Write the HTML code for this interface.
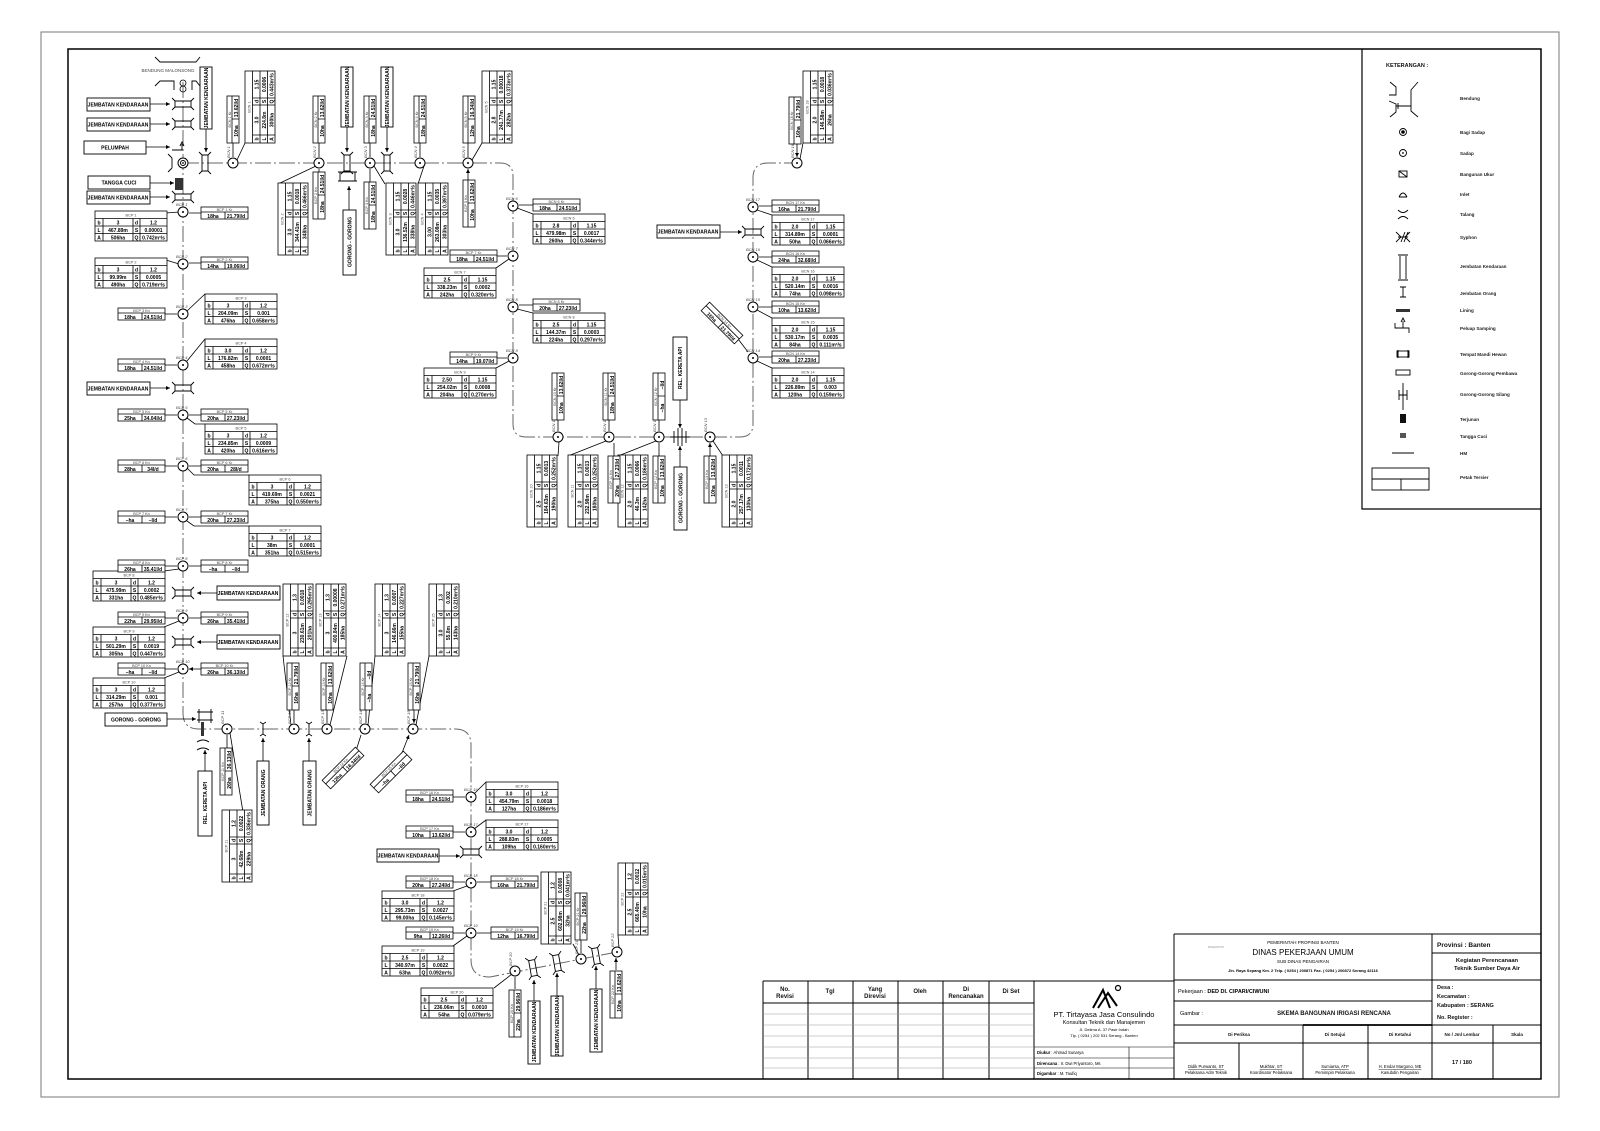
<!DOCTYPE html>
<html><head><meta charset="utf-8">
<style>
html,body{margin:0;padding:0;background:#fff}
svg{display:block}
.v{font:bold 5px "Liberation Sans",sans-serif;text-anchor:middle;fill:#000}
.tt{font:3.8px "Liberation Sans",sans-serif;text-anchor:middle;fill:#444}
.b{font:bold 5px "Liberation Sans",sans-serif;text-anchor:middle;fill:#000}
.n{font:italic 4px "Liberation Sans",sans-serif;fill:#444}
.lg{font:bold 4.6px "Liberation Sans",sans-serif;fill:#222}
.s{font:5px "Liberation Sans",sans-serif;fill:#222}
.sb{font:bold 5.5px "Liberation Sans",sans-serif;fill:#111}
.m{font:bold 6px "Liberation Sans",sans-serif;fill:#111;text-anchor:middle}
</style></head><body>
<svg width="1600" height="1131" viewBox="0 0 1600 1131" xmlns="http://www.w3.org/2000/svg">
<defs>
<g id="T" fill="none" stroke="#000" stroke-width="0.8"><rect x="0" y="0" width="72" height="30" fill="#fff"/><path d="M0 7.5H72M0 15H72M0 22.5H72M8 7.5V30M38 7.5V30M45 7.5V30"/></g>
<g id="K" fill="none" stroke="#000" stroke-width="0.8"><rect x="0" y="0" width="47" height="12" fill="#fff"/><path d="M0 5H47M24 5V12"/></g>
<g id="N"><circle r="5" fill="#fff" stroke="#000" stroke-width="1"/><circle r="1" fill="#000"/></g>
<g id="JV" fill="none" stroke="#000" stroke-width="0.9"><path d="M-8 -3H8M-8 3H8M-8 -3L-11 -6M-8 3L-11 6M8 -3L11 -6M8 3L11 6M-8 -3V3M8 -3V3"/></g>
<g id="JO" fill="none" stroke="#000" stroke-width="0.9"><path d="M-5 0H5M-5 0L-7 -3M-5 0L-7 3M5 0L7 -3M5 0L7 3"/></g>
<marker id="a" viewBox="0 0 6 6" refX="6" refY="3" markerWidth="5" markerHeight="5" orient="auto"><path d="M0 0L6 3L0 6Z" fill="#000"/></marker>
</defs>

<rect x="41" y="32" width="1518" height="1065" fill="none" stroke="#777" stroke-width="1"/>
<rect x="68" y="49" width="1473" height="1030" fill="none" stroke="#000" stroke-width="1.5"/>

<g fill="none" stroke="#666" stroke-width="1" stroke-dasharray="16 3 2 3">
<path d="M183 82V713Q183 729 199 729H455Q471 729 471 745V960Q471 977 490 977L617 952"/>
<path d="M183 163H500Q513 163 513 176V424Q513 437 526 437H740Q753 437 753 424V178Q753 163 768 163H797"/>
</g>

<path d="M155 57L160 62H196L200 57M155 86L160 81H174V90M200 86L196 81H192V90" fill="none" stroke="#000" stroke-width="0.9"/>
<text class="tt" x="168" y="72" style="font-size:4.5px">BENDUNG MALONSONG</text>
<circle cx="183" cy="83" r="3" fill="none" stroke="#000" stroke-width="0.8"/><circle cx="183" cy="89" r="3" fill="none" stroke="#000" stroke-width="0.8"/>
<use href="#JV" x="183" y="104"/><use href="#JV" x="183" y="124"/><use href="#JV" x="183" y="197"/>
<path d="M172 150H182V144M180 146L182 142L184 146" fill="none" stroke="#000" stroke-width="0.9"/>
<circle cx="183" cy="163" r="5" fill="#fff" stroke="#000"/><circle cx="183" cy="163" r="2.5" fill="none" stroke="#000"/><circle cx="183" cy="163" r="0.9"/>
<path d="M172 158V168M168 154L172 158M168 172L172 168" fill="none" stroke="#000" stroke-width="0.9"/>
<rect x="175" y="178" width="8" height="12" fill="#333"/>
<use href="#JV" transform="translate(205 163) rotate(90)"/>
<g stroke="#000" stroke-width="0.8" marker-end="url(#a)">
<path d="M150 104H170"/><path d="M150 124H170"/><path d="M146 147H170"/><path d="M150 183H174"/><path d="M150 197H170"/>
<path d="M206 129V152"/><path d="M150 388H170"/><path d="M217 593H197"/><path d="M217 642H197"/><path d="M167 719H196"/>
<path d="M347 127V152"/><path d="M387 127V152"/><path d="M349 210V186"/>
<path d="M680 400V428"/><path d="M680 467V446"/><path d="M720 232H742"/>
<path d="M205 771V750"/><path d="M263 761V738"/><path d="M309 761V738"/>
<path d="M438 856H460"/><path d="M534 1001V980"/><path d="M557 996V973"/><path d="M596 989V966"/>
</g>
<use href="#JV" x="183" y="388"/><use href="#JV" x="183" y="593"/><use href="#JV" x="183" y="642"/>
<path d="M197 712H213M197 720H213M199 709V723M211 709V723" fill="none" stroke="#000" stroke-width="0.9"/>
<rect x="201" y="722" width="3" height="14" fill="#333"/>
<path d="M197 742Q203 738 209 742M197 750Q203 746 209 750" fill="none" stroke="#000" stroke-width="0.9"/>
<use href="#JV" transform="translate(347 163) rotate(90)"/><use href="#JV" transform="translate(387 163) rotate(90)"/>
<path d="M338 172H357M338 181H357M340 172V181M355 172V181" fill="none" stroke="#000" stroke-width="0.9"/>
<path d="M674 431V443M686 431V443M670 437H690M678 428V446M682 428V446" fill="none" stroke="#000" stroke-width="0.9"/>
<use href="#JV" x="753" y="232"/><use href="#JV" x="471" y="852"/>
<use href="#JO" transform="translate(263 729) rotate(90)"/><use href="#JO" transform="translate(309 729) rotate(90)"/>
<use href="#JV" transform="translate(533 968) rotate(80)"/><use href="#JV" transform="translate(557 963) rotate(80)"/><use href="#JV" transform="translate(596 956) rotate(80)"/>

<g fill="#fff" stroke="#000" stroke-width="0.9">
<rect x="87" y="98" width="63" height="13"/><rect x="87" y="118" width="63" height="13"/><rect x="84" y="141" width="62" height="13"/>
<rect x="88" y="176" width="62" height="13"/><rect x="87" y="191" width="63" height="13"/><rect x="87" y="382" width="63" height="13"/>
<rect x="217" y="586" width="63" height="14"/><rect x="217" y="635" width="63" height="14"/><rect x="105" y="713" width="62" height="13"/>
<rect x="657" y="225" width="63" height="13"/><rect x="377" y="849" width="62" height="13"/>
<rect x="200" y="67" width="12" height="62"/><rect x="341" y="67" width="12" height="60"/><rect x="381" y="67" width="12" height="60"/>
<rect x="343" y="210" width="13" height="65"/><rect x="673" y="337" width="14" height="63"/><rect x="674" y="467" width="13" height="63"/>
<rect x="198" y="771" width="14" height="65"/><rect x="257" y="761" width="12" height="64"/><rect x="303" y="761" width="13" height="64"/>
<rect x="528" y="1001" width="12" height="63"/><rect x="551" y="996" width="12" height="60"/><rect x="590" y="989" width="12" height="63"/>
</g>
<text class="b" x="118" y="106.5">JEMBATAN KENDARAAN</text><text class="b" x="118" y="126.5">JEMBATAN KENDARAAN</text>
<text class="b" x="115" y="149.5">PELUMPAH</text><text class="b" x="119" y="184.5">TANGGA CUCI</text>
<text class="b" x="118" y="199.5">JEMBATAN KENDARAAN</text><text class="b" x="118" y="390.5">JEMBATAN KENDARAAN</text>
<text class="b" x="248" y="595">JEMBATAN KENDARAAN</text><text class="b" x="248" y="644">JEMBATAN KENDARAAN</text>
<text class="b" x="136" y="721.5">GORONG - GORONG</text><text class="b" x="688" y="233.5">JEMBATAN KENDARAAN</text>
<text class="b" x="408" y="857.5">JEMBATAN KENDARAAN</text>
<text class="b" transform="translate(208 98) rotate(-90)">JEMBATAN KENDARAAN</text>
<text class="b" transform="translate(349 97) rotate(-90)">JEMBATAN KENDARAAN</text>
<text class="b" transform="translate(389 97) rotate(-90)">JEMBATAN KENDARAAN</text>
<text class="b" transform="translate(351.5 242) rotate(-90)">GORONG - GORONG</text>
<text class="b" transform="translate(682 368) rotate(-90)">REL. KERETA API</text>
<text class="b" transform="translate(682.5 498) rotate(-90)">GORONG - GORONG</text>
<text class="b" transform="translate(207 803) rotate(-90)">REL. KERETA API</text>
<text class="b" transform="translate(265 793) rotate(-90)">JEMBATAN ORANG</text>
<text class="b" transform="translate(311.5 793) rotate(-90)">JEMBATAN ORANG</text>
<text class="b" transform="translate(536 1032) rotate(-90)">JEMBATAN KENDARAAN</text>
<text class="b" transform="translate(559 1026) rotate(-90)">JEMBATAN KENDARAAN</text>
<text class="b" transform="translate(598 1020) rotate(-90)">JEMBATAN KENDARAAN</text>

<g stroke="#000" stroke-width="0.8" fill="none">
<path d="M166 213L179 212M166 260L179 264M205 294L187 311M205 339L187 361M205 424L195 424L187 418M249 475L194 475L187 468M249 526L194 526L187 521M164 571L179 569M164 627L179 621M164 678L179 672"/>
<path d="M245 143L237 160M278 184L316 166M385 184L374 166M418 184L424 166M482 143L472 160"/>
<path d="M533 214L517 208M496 268L509 259M533 313L517 309M496 368L509 361"/>
<path d="M772 368L757 361M772 318L757 310M772 267L757 260M772 215L757 210M803 143L800 159"/>
<path d="M558 456L559 442M568 456L606 441M618 456L656 441M723 456L713 441"/>
<path d="M243 812L230 733M283 656L291 725M347 656L330 725M375 656L368 725M429 656L416 725"/>
<path d="M486 782L474 794M486 820L474 829M453 891L467 886M453 946L467 936M494 988L512 974M573 944L579 955M618 935L619 948"/>
</g>
<g stroke="#000" stroke-width="0.8" marker-end="url(#a)">
<path d="M201 213H189M201 263H189M165 314H177M165 365H177M165 415H177M201 415H189M165 466H177M201 466H189M165 517H177M201 517H189M165 566H177M201 566H189M165 618H177M201 618H189M165 669H177M201 669H189"/>
<path d="M233 143V157M319 143V157M319 172V169M370 143V157M370 184V169M420 143V157M468 143V157M468 180V169"/>
<path d="M533 205H519M496 256H507M533 305H519M496 358H507M772 357H759M772 307H759M772 257H759M772 206H759M797 144V157"/>
<path d="M558 420V431M609 420V431M614 456V443M659 420V431M659 456V443M710 456V443"/>
<path d="M227 748V735M294 710V723M327 710V723M366 710V723M414 710V723"/>
<path d="M453 797H465M453 832H465M453 882H465M491 882H477M453 933H465M491 933H477M515 989V977M581 940V953M616 970V958"/>
<path d="M735 335L748 352M355 754L361 735M400 758L409 735"/>
</g>

<g>
<use href="#N" x="183" y="212"/><use href="#N" x="183" y="264"/><use href="#N" x="183" y="314"/><use href="#N" x="183" y="365"/>
<use href="#N" x="183" y="415"/><use href="#N" x="183" y="466"/><use href="#N" x="183" y="517"/><use href="#N" x="183" y="566"/>
<use href="#N" x="183" y="618"/><use href="#N" x="183" y="669"/>
<use href="#N" x="233" y="163"/><use href="#N" x="319" y="163"/><use href="#N" x="370" y="163"/><use href="#N" x="420" y="163"/><use href="#N" x="468" y="163"/>
<use href="#N" x="513" y="206"/><use href="#N" x="513" y="256"/><use href="#N" x="513" y="307"/><use href="#N" x="513" y="358"/>
<use href="#N" x="558" y="437"/><use href="#N" x="609" y="437"/><use href="#N" x="659" y="437"/><use href="#N" x="710" y="437"/>
<use href="#N" x="753" y="358"/><use href="#N" x="753" y="307"/><use href="#N" x="753" y="257"/><use href="#N" x="753" y="207"/><use href="#N" x="797" y="163"/>
<use href="#N" x="227" y="729"/><use href="#N" x="294" y="729"/><use href="#N" x="327" y="729"/><use href="#N" x="365" y="729"/><use href="#N" x="413" y="729"/>
<use href="#N" x="471" y="797"/><use href="#N" x="471" y="832"/><use href="#N" x="471" y="883"/><use href="#N" x="471" y="933"/>
<use href="#N" x="515" y="971"/><use href="#N" x="581" y="959"/><use href="#N" x="617" y="952"/>
</g>
<g class="n">
<text x="176" y="206">BCP 1</text><text x="176" y="258">BCP 2</text><text x="176" y="308">BCP 3</text><text x="176" y="359">BCP 4</text><text x="176" y="409">BCP 5</text>
<text x="176" y="460">BCP 6</text><text x="176" y="511">BCP 7</text><text x="176" y="560">BCP 8</text><text x="176" y="612">BCP 9</text><text x="176" y="663">BCP 10</text>
<text x="506" y="200">BCN 6</text><text x="506" y="250">BCN 7</text><text x="506" y="301">BCN 8</text><text x="506" y="352">BCN 9</text>
<text x="746" y="352">BCN 14</text><text x="746" y="301">BCN 15</text><text x="746" y="251">BCN 16</text><text x="746" y="201">BCN 17</text>
<text x="464" y="791">BCP 16</text><text x="464" y="826">BCP 17</text><text x="464" y="877">BCP 18</text><text x="464" y="927">BCP 19</text>
</g>
<g class="n">
<text transform="translate(230 158) rotate(-90)">BCN 1</text><text transform="translate(316 158) rotate(-90)">BCN 2</text><text transform="translate(367 158) rotate(-90)">BCN 3</text>
<text transform="translate(417 158) rotate(-90)">BCN 4</text><text transform="translate(465 158) rotate(-90)">BCN 5</text><text transform="translate(794 158) rotate(-90)">BCN 18</text>
<text transform="translate(555 432) rotate(-90)">BCN 10</text><text transform="translate(606 432) rotate(-90)">BCN 11</text><text transform="translate(656 432) rotate(-90)">BCN 12</text><text transform="translate(707 432) rotate(-90)">BCN 13</text>
<text transform="translate(224 724) rotate(-90)">BCP 11</text><text transform="translate(291 724) rotate(-90)">BCP 12</text><text transform="translate(324 724) rotate(-90)">BCP 13</text>
<text transform="translate(362 724) rotate(-90)">BCP 14</text><text transform="translate(410 724) rotate(-90)">BCP 15</text>
<text transform="translate(512 966) rotate(-90)">BCP 20</text><text transform="translate(578 954) rotate(-90)">BCP 21</text><text transform="translate(614 947) rotate(-90)">BCP 22</text>
</g>

<g transform="translate(95 211)"><use href="#T"/><text class="tt" x="36" y="5.5">BCP 1</text><text class="v"><tspan x="4" y="13.5">b</tspan><tspan x="23">3</tspan><tspan x="41.5">d</tspan><tspan x="58.5">1.2</tspan><tspan x="4" y="21">L</tspan><tspan x="23">467.89m</tspan><tspan x="41.5">S</tspan><tspan x="58.5">0.00001</tspan><tspan x="4" y="28.5">A</tspan><tspan x="23">506ha</tspan><tspan x="41.5">Q</tspan><tspan x="58.5">0.742m³/s</tspan></text></g>
<g transform="translate(95 258)"><use href="#T"/><text class="tt" x="36" y="5.5">BCP 2</text><text class="v"><tspan x="4" y="13.5">b</tspan><tspan x="23">3</tspan><tspan x="41.5">d</tspan><tspan x="58.5">1.2</tspan><tspan x="4" y="21">L</tspan><tspan x="23">99.99m</tspan><tspan x="41.5">S</tspan><tspan x="58.5">0.0005</tspan><tspan x="4" y="28.5">A</tspan><tspan x="23">490ha</tspan><tspan x="41.5">Q</tspan><tspan x="58.5">0.719m³/s</tspan></text></g>
<g transform="translate(205 294)"><use href="#T"/><text class="tt" x="36" y="5.5">BCP 3</text><text class="v"><tspan x="4" y="13.5">b</tspan><tspan x="23">3</tspan><tspan x="41.5">d</tspan><tspan x="58.5">1.2</tspan><tspan x="4" y="21">L</tspan><tspan x="23">204.09m</tspan><tspan x="41.5">S</tspan><tspan x="58.5">0.001</tspan><tspan x="4" y="28.5">A</tspan><tspan x="23">476ha</tspan><tspan x="41.5">Q</tspan><tspan x="58.5">0.658m³/s</tspan></text></g>
<g transform="translate(205 339)"><use href="#T"/><text class="tt" x="36" y="5.5">BCP 4</text><text class="v"><tspan x="4" y="13.5">b</tspan><tspan x="23">3.0</tspan><tspan x="41.5">d</tspan><tspan x="58.5">1.2</tspan><tspan x="4" y="21">L</tspan><tspan x="23">176.82m</tspan><tspan x="41.5">S</tspan><tspan x="58.5">0.0001</tspan><tspan x="4" y="28.5">A</tspan><tspan x="23">458ha</tspan><tspan x="41.5">Q</tspan><tspan x="58.5">0.672m³/s</tspan></text></g>
<g transform="translate(205 424)"><use href="#T"/><text class="tt" x="36" y="5.5">BCP 5</text><text class="v"><tspan x="4" y="13.5">b</tspan><tspan x="23">3</tspan><tspan x="41.5">d</tspan><tspan x="58.5">1.2</tspan><tspan x="4" y="21">L</tspan><tspan x="23">234.85m</tspan><tspan x="41.5">S</tspan><tspan x="58.5">0.0009</tspan><tspan x="4" y="28.5">A</tspan><tspan x="23">420ha</tspan><tspan x="41.5">Q</tspan><tspan x="58.5">0.616m³/s</tspan></text></g>
<g transform="translate(249 475)"><use href="#T"/><text class="tt" x="36" y="5.5">BCP 6</text><text class="v"><tspan x="4" y="13.5">b</tspan><tspan x="23">3</tspan><tspan x="41.5">d</tspan><tspan x="58.5">1.2</tspan><tspan x="4" y="21">L</tspan><tspan x="23">419.69m</tspan><tspan x="41.5">S</tspan><tspan x="58.5">0.0021</tspan><tspan x="4" y="28.5">A</tspan><tspan x="23">375ha</tspan><tspan x="41.5">Q</tspan><tspan x="58.5">0.550m³/s</tspan></text></g>
<g transform="translate(249 526)"><use href="#T"/><text class="tt" x="36" y="5.5">BCP 7</text><text class="v"><tspan x="4" y="13.5">b</tspan><tspan x="23">3</tspan><tspan x="41.5">d</tspan><tspan x="58.5">1.2</tspan><tspan x="4" y="21">L</tspan><tspan x="23">38m</tspan><tspan x="41.5">S</tspan><tspan x="58.5">0.0001</tspan><tspan x="4" y="28.5">A</tspan><tspan x="23">351ha</tspan><tspan x="41.5">Q</tspan><tspan x="58.5">0.515m³/s</tspan></text></g>
<g transform="translate(93 571)"><use href="#T"/><text class="tt" x="36" y="5.5">BCP 8</text><text class="v"><tspan x="4" y="13.5">b</tspan><tspan x="23">3</tspan><tspan x="41.5">d</tspan><tspan x="58.5">1.2</tspan><tspan x="4" y="21">L</tspan><tspan x="23">475.99m</tspan><tspan x="41.5">S</tspan><tspan x="58.5">0.0002</tspan><tspan x="4" y="28.5">A</tspan><tspan x="23">331ha</tspan><tspan x="41.5">Q</tspan><tspan x="58.5">0.485m³/s</tspan></text></g>
<g transform="translate(93 627)"><use href="#T"/><text class="tt" x="36" y="5.5">BCP 9</text><text class="v"><tspan x="4" y="13.5">b</tspan><tspan x="23">3</tspan><tspan x="41.5">d</tspan><tspan x="58.5">1.2</tspan><tspan x="4" y="21">L</tspan><tspan x="23">501.29m</tspan><tspan x="41.5">S</tspan><tspan x="58.5">0.0019</tspan><tspan x="4" y="28.5">A</tspan><tspan x="23">305ha</tspan><tspan x="41.5">Q</tspan><tspan x="58.5">0.447m³/s</tspan></text></g>
<g transform="translate(93 678)"><use href="#T"/><text class="tt" x="36" y="5.5">BCP 10</text><text class="v"><tspan x="4" y="13.5">b</tspan><tspan x="23">3</tspan><tspan x="41.5">d</tspan><tspan x="58.5">1.2</tspan><tspan x="4" y="21">L</tspan><tspan x="23">314.29m</tspan><tspan x="41.5">S</tspan><tspan x="58.5">0.001</tspan><tspan x="4" y="28.5">A</tspan><tspan x="23">257ha</tspan><tspan x="41.5">Q</tspan><tspan x="58.5">0.377m³/s</tspan></text></g>
<g transform="translate(486 782)"><use href="#T"/><text class="tt" x="36" y="5.5">BCP 16</text><text class="v"><tspan x="4" y="13.5">b</tspan><tspan x="23">3.0</tspan><tspan x="41.5">d</tspan><tspan x="58.5">1.2</tspan><tspan x="4" y="21">L</tspan><tspan x="23">454.79m</tspan><tspan x="41.5">S</tspan><tspan x="58.5">0.0018</tspan><tspan x="4" y="28.5">A</tspan><tspan x="23">127ha</tspan><tspan x="41.5">Q</tspan><tspan x="58.5">0.186m³/s</tspan></text></g>
<g transform="translate(486 820)"><use href="#T"/><text class="tt" x="36" y="5.5">BCP 17</text><text class="v"><tspan x="4" y="13.5">b</tspan><tspan x="23">3.0</tspan><tspan x="41.5">d</tspan><tspan x="58.5">1.2</tspan><tspan x="4" y="21">L</tspan><tspan x="23">288.83m</tspan><tspan x="41.5">S</tspan><tspan x="58.5">0.0005</tspan><tspan x="4" y="28.5">A</tspan><tspan x="23">109ha</tspan><tspan x="41.5">Q</tspan><tspan x="58.5">0.160m³/s</tspan></text></g>
<g transform="translate(382 891)"><use href="#T"/><text class="tt" x="36" y="5.5">BCP 18</text><text class="v"><tspan x="4" y="13.5">b</tspan><tspan x="23">3.0</tspan><tspan x="41.5">d</tspan><tspan x="58.5">1.2</tspan><tspan x="4" y="21">L</tspan><tspan x="23">295.73m</tspan><tspan x="41.5">S</tspan><tspan x="58.5">0.0027</tspan><tspan x="4" y="28.5">A</tspan><tspan x="23">99.00ha</tspan><tspan x="41.5">Q</tspan><tspan x="58.5">0.145m³/s</tspan></text></g>
<g transform="translate(382 946)"><use href="#T"/><text class="tt" x="36" y="5.5">BCP 19</text><text class="v"><tspan x="4" y="13.5">b</tspan><tspan x="23">2.5</tspan><tspan x="41.5">d</tspan><tspan x="58.5">1.2</tspan><tspan x="4" y="21">L</tspan><tspan x="23">340.97m</tspan><tspan x="41.5">S</tspan><tspan x="58.5">0.0022</tspan><tspan x="4" y="28.5">A</tspan><tspan x="23">63ha</tspan><tspan x="41.5">Q</tspan><tspan x="58.5">0.092m³/s</tspan></text></g>
<g transform="translate(421 988)"><use href="#T"/><text class="tt" x="36" y="5.5">BCP 20</text><text class="v"><tspan x="4" y="13.5">b</tspan><tspan x="23">2.5</tspan><tspan x="41.5">d</tspan><tspan x="58.5">1.2</tspan><tspan x="4" y="21">L</tspan><tspan x="23">236.06m</tspan><tspan x="41.5">S</tspan><tspan x="58.5">0.0010</tspan><tspan x="4" y="28.5">A</tspan><tspan x="23">54ha</tspan><tspan x="41.5">Q</tspan><tspan x="58.5">0.079m³/s</tspan></text></g>
<g transform="translate(533 214)"><use href="#T"/><text class="tt" x="36" y="5.5">BCN 6</text><text class="v"><tspan x="4" y="13.5">b</tspan><tspan x="23">2.8</tspan><tspan x="41.5">d</tspan><tspan x="58.5">1.15</tspan><tspan x="4" y="21">L</tspan><tspan x="23">479.98m</tspan><tspan x="41.5">S</tspan><tspan x="58.5">0.0017</tspan><tspan x="4" y="28.5">A</tspan><tspan x="23">260ha</tspan><tspan x="41.5">Q</tspan><tspan x="58.5">0.344m³/s</tspan></text></g>
<g transform="translate(424 268)"><use href="#T"/><text class="tt" x="36" y="5.5">BCN 7</text><text class="v"><tspan x="4" y="13.5">b</tspan><tspan x="23">2.5</tspan><tspan x="41.5">d</tspan><tspan x="58.5">1.15</tspan><tspan x="4" y="21">L</tspan><tspan x="23">338.23m</tspan><tspan x="41.5">S</tspan><tspan x="58.5">0.0002</tspan><tspan x="4" y="28.5">A</tspan><tspan x="23">242ha</tspan><tspan x="41.5">Q</tspan><tspan x="58.5">0.320m³/s</tspan></text></g>
<g transform="translate(533 313)"><use href="#T"/><text class="tt" x="36" y="5.5">BCN 8</text><text class="v"><tspan x="4" y="13.5">b</tspan><tspan x="23">2.5</tspan><tspan x="41.5">d</tspan><tspan x="58.5">1.15</tspan><tspan x="4" y="21">L</tspan><tspan x="23">144.37m</tspan><tspan x="41.5">S</tspan><tspan x="58.5">0.0003</tspan><tspan x="4" y="28.5">A</tspan><tspan x="23">224ha</tspan><tspan x="41.5">Q</tspan><tspan x="58.5">0.297m³/s</tspan></text></g>
<g transform="translate(424 368)"><use href="#T"/><text class="tt" x="36" y="5.5">BCN 9</text><text class="v"><tspan x="4" y="13.5">b</tspan><tspan x="23">2.50</tspan><tspan x="41.5">d</tspan><tspan x="58.5">1.15</tspan><tspan x="4" y="21">L</tspan><tspan x="23">254.02m</tspan><tspan x="41.5">S</tspan><tspan x="58.5">0.0008</tspan><tspan x="4" y="28.5">A</tspan><tspan x="23">204ha</tspan><tspan x="41.5">Q</tspan><tspan x="58.5">0.270m³/s</tspan></text></g>
<g transform="translate(772 368)"><use href="#T"/><text class="tt" x="36" y="5.5">BCN 14</text><text class="v"><tspan x="4" y="13.5">b</tspan><tspan x="23">2.0</tspan><tspan x="41.5">d</tspan><tspan x="58.5">1.15</tspan><tspan x="4" y="21">L</tspan><tspan x="23">226.89m</tspan><tspan x="41.5">S</tspan><tspan x="58.5">0.003</tspan><tspan x="4" y="28.5">A</tspan><tspan x="23">120ha</tspan><tspan x="41.5">Q</tspan><tspan x="58.5">0.159m³/s</tspan></text></g>
<g transform="translate(772 318)"><use href="#T"/><text class="tt" x="36" y="5.5">BCN 15</text><text class="v"><tspan x="4" y="13.5">b</tspan><tspan x="23">2.0</tspan><tspan x="41.5">d</tspan><tspan x="58.5">1.15</tspan><tspan x="4" y="21">L</tspan><tspan x="23">530.17m</tspan><tspan x="41.5">S</tspan><tspan x="58.5">0.0035</tspan><tspan x="4" y="28.5">A</tspan><tspan x="23">84ha</tspan><tspan x="41.5">Q</tspan><tspan x="58.5">0.111m³/s</tspan></text></g>
<g transform="translate(772 267)"><use href="#T"/><text class="tt" x="36" y="5.5">BCN 16</text><text class="v"><tspan x="4" y="13.5">b</tspan><tspan x="23">2.0</tspan><tspan x="41.5">d</tspan><tspan x="58.5">1.15</tspan><tspan x="4" y="21">L</tspan><tspan x="23">520.14m</tspan><tspan x="41.5">S</tspan><tspan x="58.5">0.0016</tspan><tspan x="4" y="28.5">A</tspan><tspan x="23">74ha</tspan><tspan x="41.5">Q</tspan><tspan x="58.5">0.098m³/s</tspan></text></g>
<g transform="translate(772 215)"><use href="#T"/><text class="tt" x="36" y="5.5">BCN 17</text><text class="v"><tspan x="4" y="13.5">b</tspan><tspan x="23">2.0</tspan><tspan x="41.5">d</tspan><tspan x="58.5">1.15</tspan><tspan x="4" y="21">L</tspan><tspan x="23">314.89m</tspan><tspan x="41.5">S</tspan><tspan x="58.5">0.0001</tspan><tspan x="4" y="28.5">A</tspan><tspan x="23">50ha</tspan><tspan x="41.5">Q</tspan><tspan x="58.5">0.066m³/s</tspan></text></g>

<g transform="translate(245 143) rotate(-90)"><use href="#T"/><text class="tt" x="36" y="5.5">BCN 1</text><text class="v"><tspan x="4" y="13.5">b</tspan><tspan x="23">3.0</tspan><tspan x="41.5">d</tspan><tspan x="58.5">1.15</tspan><tspan x="4" y="21">L</tspan><tspan x="23">224.8m</tspan><tspan x="41.5">S</tspan><tspan x="58.5">0.0006</tspan><tspan x="4" y="28.5">A</tspan><tspan x="23">300ha</tspan><tspan x="41.5">Q</tspan><tspan x="58.5">0.443m³/s</tspan></text></g>
<g transform="translate(278 255) rotate(-90)"><use href="#T"/><text class="tt" x="36" y="5.5">BCN 2</text><text class="v"><tspan x="4" y="13.5">b</tspan><tspan x="23">3.0</tspan><tspan x="41.5">d</tspan><tspan x="58.5">1.15</tspan><tspan x="4" y="21">L</tspan><tspan x="23">344.41m</tspan><tspan x="41.5">S</tspan><tspan x="58.5">0.0018</tspan><tspan x="4" y="28.5">A</tspan><tspan x="23">348ha</tspan><tspan x="41.5">Q</tspan><tspan x="58.5">0.466m³/s</tspan></text></g>
<g transform="translate(386 255) rotate(-90)"><use href="#T"/><text class="tt" x="36" y="5.5">BCN 3</text><text class="v"><tspan x="4" y="13.5">b</tspan><tspan x="23">3.0</tspan><tspan x="41.5">d</tspan><tspan x="58.5">1.15</tspan><tspan x="4" y="21">L</tspan><tspan x="23">136.52m</tspan><tspan x="41.5">S</tspan><tspan x="58.5">0.0028</tspan><tspan x="4" y="28.5">A</tspan><tspan x="23">338ha</tspan><tspan x="41.5">Q</tspan><tspan x="58.5">0.446m³/s</tspan></text></g>
<g transform="translate(418 255) rotate(-90)"><use href="#T"/><text class="tt" x="36" y="5.5">BCN 4</text><text class="v"><tspan x="4" y="13.5">b</tspan><tspan x="23">3.00</tspan><tspan x="41.5">d</tspan><tspan x="58.5">1.15</tspan><tspan x="4" y="21">L</tspan><tspan x="23">263.08m</tspan><tspan x="41.5">S</tspan><tspan x="58.5">0.0035</tspan><tspan x="4" y="28.5">A</tspan><tspan x="23">303ha</tspan><tspan x="41.5">Q</tspan><tspan x="58.5">0.397m³/s</tspan></text></g>
<g transform="translate(482 143) rotate(-90)"><use href="#T"/><text class="tt" x="36" y="5.5">BCN 5</text><text class="v"><tspan x="4" y="13.5">b</tspan><tspan x="23">2.8</tspan><tspan x="41.5">d</tspan><tspan x="58.5">1.15</tspan><tspan x="4" y="21">L</tspan><tspan x="23">241.77m</tspan><tspan x="41.5">S</tspan><tspan x="58.5">0.00018</tspan><tspan x="4" y="28.5">A</tspan><tspan x="23">282ha</tspan><tspan x="41.5">Q</tspan><tspan x="58.5">0.373m³/s</tspan></text></g>
<g transform="translate(803 143) rotate(-90)"><use href="#T"/><text class="tt" x="36" y="5.5">BCN 18</text><text class="v"><tspan x="4" y="13.5">b</tspan><tspan x="23">2.0</tspan><tspan x="41.5">d</tspan><tspan x="58.5">1.15</tspan><tspan x="4" y="21">L</tspan><tspan x="23">146.58m</tspan><tspan x="41.5">S</tspan><tspan x="58.5">0.0018</tspan><tspan x="4" y="28.5">A</tspan><tspan x="23">26ha</tspan><tspan x="41.5">Q</tspan><tspan x="58.5">0.036m³/s</tspan></text></g>
<g transform="translate(527 527) rotate(-90)"><use href="#T"/><text class="tt" x="36" y="5.5">BCN 10</text><text class="v"><tspan x="4" y="13.5">b</tspan><tspan x="23">2.5</tspan><tspan x="41.5">d</tspan><tspan x="58.5">1.15</tspan><tspan x="4" y="21">L</tspan><tspan x="23">184.63m</tspan><tspan x="41.5">S</tspan><tspan x="58.5">0.0013</tspan><tspan x="4" y="28.5">A</tspan><tspan x="23">190ha</tspan><tspan x="41.5">Q</tspan><tspan x="58.5">0.252m³/s</tspan></text></g>
<g transform="translate(568 527) rotate(-90)"><use href="#T"/><text class="tt" x="36" y="5.5">BCN 11</text><text class="v"><tspan x="4" y="13.5">b</tspan><tspan x="23">2.0</tspan><tspan x="41.5">d</tspan><tspan x="58.5">1.15</tspan><tspan x="4" y="21">L</tspan><tspan x="23">232.98m</tspan><tspan x="41.5">S</tspan><tspan x="58.5">0.0013</tspan><tspan x="4" y="28.5">A</tspan><tspan x="23">180ha</tspan><tspan x="41.5">Q</tspan><tspan x="58.5">0.252m³/s</tspan></text></g>
<g transform="translate(618 527) rotate(-90)"><use href="#T"/><text class="tt" x="36" y="5.5">BCN 12</text><text class="v"><tspan x="4" y="13.5">b</tspan><tspan x="23">2.0</tspan><tspan x="41.5">d</tspan><tspan x="58.5">1.15</tspan><tspan x="4" y="21">L</tspan><tspan x="23">46.3m</tspan><tspan x="41.5">S</tspan><tspan x="58.5">0.0066</tspan><tspan x="4" y="28.5">A</tspan><tspan x="23">142ha</tspan><tspan x="41.5">Q</tspan><tspan x="58.5">0.186m³/s</tspan></text></g>
<g transform="translate(722 527) rotate(-90)"><use href="#T"/><text class="tt" x="36" y="5.5">BCN 13</text><text class="v"><tspan x="4" y="13.5">b</tspan><tspan x="23">2.0</tspan><tspan x="41.5">d</tspan><tspan x="58.5">1.15</tspan><tspan x="4" y="21">L</tspan><tspan x="23">257.17m</tspan><tspan x="41.5">S</tspan><tspan x="58.5">0.0011</tspan><tspan x="4" y="28.5">A</tspan><tspan x="23">130ha</tspan><tspan x="41.5">Q</tspan><tspan x="58.5">0.172m³/s</tspan></text></g>
<g transform="translate(222 882) rotate(-90)"><use href="#T"/><text class="tt" x="36" y="5.5">BCP 11</text><text class="v"><tspan x="4" y="13.5">b</tspan><tspan x="23">3</tspan><tspan x="41.5">d</tspan><tspan x="58.5">1.2</tspan><tspan x="4" y="21">L</tspan><tspan x="23">42.68m</tspan><tspan x="41.5">S</tspan><tspan x="58.5">0.0022</tspan><tspan x="4" y="28.5">A</tspan><tspan x="23">229ha</tspan><tspan x="41.5">Q</tspan><tspan x="58.5">0.336m³/s</tspan></text></g>
<g transform="translate(283 656) rotate(-90)"><use href="#T"/><text class="tt" x="36" y="5.5">BCP 12</text><text class="v"><tspan x="4" y="13.5">b</tspan><tspan x="23">3</tspan><tspan x="41.5">d</tspan><tspan x="58.5">1.3</tspan><tspan x="4" y="21">L</tspan><tspan x="23">230.61m</tspan><tspan x="41.5">S</tspan><tspan x="58.5">0.0018</tspan><tspan x="4" y="28.5">A</tspan><tspan x="23">201ha</tspan><tspan x="41.5">Q</tspan><tspan x="58.5">0.295m³/s</tspan></text></g>
<g transform="translate(316 656) rotate(-90)"><use href="#T"/><text class="tt" x="36" y="5.5">BCP 13</text><text class="v"><tspan x="4" y="13.5">b</tspan><tspan x="23">3</tspan><tspan x="41.5">d</tspan><tspan x="58.5">1.3</tspan><tspan x="4" y="21">L</tspan><tspan x="23">400.84m</tspan><tspan x="41.5">S</tspan><tspan x="58.5">0.00008</tspan><tspan x="4" y="28.5">A</tspan><tspan x="23">185ha</tspan><tspan x="41.5">Q</tspan><tspan x="58.5">0.271m³/s</tspan></text></g>
<g transform="translate(375 656) rotate(-90)"><use href="#T"/><text class="tt" x="36" y="5.5">BCP 14</text><text class="v"><tspan x="4" y="13.5">b</tspan><tspan x="23">3</tspan><tspan x="41.5">d</tspan><tspan x="58.5">1.3</tspan><tspan x="4" y="21">L</tspan><tspan x="23">146.66m</tspan><tspan x="41.5">S</tspan><tspan x="58.5">0.0007</tspan><tspan x="4" y="28.5">A</tspan><tspan x="23">155ha</tspan><tspan x="41.5">Q</tspan><tspan x="58.5">0.227m³/s</tspan></text></g>
<g transform="translate(429 656) rotate(-90)"><use href="#T"/><text class="tt" x="36" y="5.5">BCP 15</text><text class="v"><tspan x="4" y="13.5">b</tspan><tspan x="23">3.0</tspan><tspan x="41.5">d</tspan><tspan x="58.5">1.3</tspan><tspan x="4" y="21">L</tspan><tspan x="23">55.8m</tspan><tspan x="41.5">S</tspan><tspan x="58.5">0.002</tspan><tspan x="4" y="28.5">A</tspan><tspan x="23">143ha</tspan><tspan x="41.5">Q</tspan><tspan x="58.5">0.210m³/s</tspan></text></g>
<g transform="translate(541 944) rotate(-90)"><use href="#T"/><text class="tt" x="36" y="5.5">BCP 21</text><text class="v"><tspan x="4" y="13.5">b</tspan><tspan x="23">2.5</tspan><tspan x="41.5">d</tspan><tspan x="58.5">1.2</tspan><tspan x="4" y="21">L</tspan><tspan x="23">602.98m</tspan><tspan x="41.5">S</tspan><tspan x="58.5">0.0008</tspan><tspan x="4" y="28.5">A</tspan><tspan x="23">32ha</tspan><tspan x="41.5">Q</tspan><tspan x="58.5">0.041m³/s</tspan></text></g>
<g transform="translate(618 935) rotate(-90)"><use href="#T"/><text class="tt" x="36" y="5.5">BCP 22</text><text class="v"><tspan x="4" y="13.5">b</tspan><tspan x="23">2.5</tspan><tspan x="41.5">d</tspan><tspan x="58.5">1.2</tspan><tspan x="4" y="21">L</tspan><tspan x="23">665.40m</tspan><tspan x="41.5">S</tspan><tspan x="58.5">0.0012</tspan><tspan x="4" y="28.5">A</tspan><tspan x="23">10ha</tspan><tspan x="41.5">Q</tspan><tspan x="58.5">0.015m³/s</tspan></text></g>

<g transform="translate(201 207)"><use href="#K"/><text class="tt" x="23.5" y="4">BCP 1 Kr</text><text class="v"><tspan x="12" y="10.8">18ha</tspan><tspan x="35">21.79l/d</tspan></text></g>
<g transform="translate(201 257)"><use href="#K"/><text class="tt" x="23.5" y="4">BCP 2 Kr</text><text class="v"><tspan x="12" y="10.8">14ha</tspan><tspan x="35">19.06l/d</tspan></text></g>
<g transform="translate(118 308)"><use href="#K"/><text class="tt" x="23.5" y="4">BCP 3 Kn</text><text class="v"><tspan x="12" y="10.8">18ha</tspan><tspan x="35">24.51l/d</tspan></text></g>
<g transform="translate(118 359)"><use href="#K"/><text class="tt" x="23.5" y="4">BCP 4 Kn</text><text class="v"><tspan x="12" y="10.8">18ha</tspan><tspan x="35">24.51l/d</tspan></text></g>
<g transform="translate(118 409)"><use href="#K"/><text class="tt" x="23.5" y="4">BCP 5 Kn</text><text class="v"><tspan x="12" y="10.8">25ha</tspan><tspan x="35">34.04l/d</tspan></text></g>
<g transform="translate(201 409)"><use href="#K"/><text class="tt" x="23.5" y="4">BCP 5 Kr</text><text class="v"><tspan x="12" y="10.8">20ha</tspan><tspan x="35">27.23l/d</tspan></text></g>
<g transform="translate(118 460)"><use href="#K"/><text class="tt" x="23.5" y="4">BCP 6 Kn</text><text class="v"><tspan x="12" y="10.8">28ha</tspan><tspan x="35">34l/d</tspan></text></g>
<g transform="translate(201 460)"><use href="#K"/><text class="tt" x="23.5" y="4">BCP 6 Kr</text><text class="v"><tspan x="12" y="10.8">20ha</tspan><tspan x="35">28l/d</tspan></text></g>
<g transform="translate(118 511)"><use href="#K"/><text class="tt" x="23.5" y="4">BCP 7 Kn</text><text class="v"><tspan x="12" y="10.8">–ha</tspan><tspan x="35">–l/d</tspan></text></g>
<g transform="translate(201 511)"><use href="#K"/><text class="tt" x="23.5" y="4">BCP 7 Kr</text><text class="v"><tspan x="12" y="10.8">20ha</tspan><tspan x="35">27.23l/d</tspan></text></g>
<g transform="translate(118 560)"><use href="#K"/><text class="tt" x="23.5" y="4">BCP 8 Kn</text><text class="v"><tspan x="12" y="10.8">26ha</tspan><tspan x="35">35.41l/d</tspan></text></g>
<g transform="translate(201 560)"><use href="#K"/><text class="tt" x="23.5" y="4">BCP 8 Kr</text><text class="v"><tspan x="12" y="10.8">–ha</tspan><tspan x="35">–l/d</tspan></text></g>
<g transform="translate(118 612)"><use href="#K"/><text class="tt" x="23.5" y="4">BCP 9 Kn</text><text class="v"><tspan x="12" y="10.8">22ha</tspan><tspan x="35">29.95l/d</tspan></text></g>
<g transform="translate(201 612)"><use href="#K"/><text class="tt" x="23.5" y="4">BCP 9 Kr</text><text class="v"><tspan x="12" y="10.8">26ha</tspan><tspan x="35">35.41l/d</tspan></text></g>
<g transform="translate(118 663)"><use href="#K"/><text class="tt" x="23.5" y="4">BCP 10 Kn</text><text class="v"><tspan x="12" y="10.8">–ha</tspan><tspan x="35">–l/d</tspan></text></g>
<g transform="translate(201 663)"><use href="#K"/><text class="tt" x="23.5" y="4">BCP 10 Kr</text><text class="v"><tspan x="12" y="10.8">26ha</tspan><tspan x="35">36.13l/d</tspan></text></g>
<g transform="translate(533 199)"><use href="#K"/><text class="tt" x="23.5" y="4">BCN 6 Kr</text><text class="v"><tspan x="12" y="10.8">18ha</tspan><tspan x="35">24.51l/d</tspan></text></g>
<g transform="translate(450 250)"><use href="#K"/><text class="tt" x="23.5" y="4">BCP 7 Kr</text><text class="v"><tspan x="12" y="10.8">18ha</tspan><tspan x="35">24.51l/d</tspan></text></g>
<g transform="translate(533 299)"><use href="#K"/><text class="tt" x="23.5" y="4">BCN 8 Kr</text><text class="v"><tspan x="12" y="10.8">20ha</tspan><tspan x="35">27.23l/d</tspan></text></g>
<g transform="translate(450 352)"><use href="#K"/><text class="tt" x="23.5" y="4">BCP 9 Kr</text><text class="v"><tspan x="12" y="10.8">14ha</tspan><tspan x="35">19.07l/d</tspan></text></g>
<g transform="translate(772 351)"><use href="#K"/><text class="tt" x="23.5" y="4">BCN 14 Kn</text><text class="v"><tspan x="12" y="10.8">20ha</tspan><tspan x="35">27.23l/d</tspan></text></g>
<g transform="translate(772 301)"><use href="#K"/><text class="tt" x="23.5" y="4">BCN 15 Kn</text><text class="v"><tspan x="12" y="10.8">10ha</tspan><tspan x="35">13.62l/d</tspan></text></g>
<g transform="translate(772 251)"><use href="#K"/><text class="tt" x="23.5" y="4">BCN 16 Kn</text><text class="v"><tspan x="12" y="10.8">24ha</tspan><tspan x="35">32.68l/d</tspan></text></g>
<g transform="translate(772 200)"><use href="#K"/><text class="tt" x="23.5" y="4">BCN 17 Kn</text><text class="v"><tspan x="12" y="10.8">16ha</tspan><tspan x="35">21.79l/d</tspan></text></g>
<g transform="translate(406 790)"><use href="#K"/><text class="tt" x="23.5" y="4">BCP 16 Kn</text><text class="v"><tspan x="12" y="10.8">18ha</tspan><tspan x="35">24.51l/d</tspan></text></g>
<g transform="translate(406 826)"><use href="#K"/><text class="tt" x="23.5" y="4">BCP 17 Kn</text><text class="v"><tspan x="12" y="10.8">10ha</tspan><tspan x="35">13.62l/d</tspan></text></g>
<g transform="translate(406 876)"><use href="#K"/><text class="tt" x="23.5" y="4">BCP 18 Kn</text><text class="v"><tspan x="12" y="10.8">20ha</tspan><tspan x="35">27.24l/d</tspan></text></g>
<g transform="translate(491 876)"><use href="#K"/><text class="tt" x="23.5" y="4">BCP 18 Kr</text><text class="v"><tspan x="12" y="10.8">16ha</tspan><tspan x="35">21.79l/d</tspan></text></g>
<g transform="translate(406 927)"><use href="#K"/><text class="tt" x="23.5" y="4">BCP 19 Kn</text><text class="v"><tspan x="12" y="10.8">9ha</tspan><tspan x="35">12.26l/d</tspan></text></g>
<g transform="translate(491 927)"><use href="#K"/><text class="tt" x="23.5" y="4">BCP 19 Kr</text><text class="v"><tspan x="12" y="10.8">12ha</tspan><tspan x="35">16.79l/d</tspan></text></g>

<g transform="translate(227 143) rotate(-90)"><use href="#K"/><text class="tt" x="23.5" y="4">BCN 1 Kr</text><text class="v"><tspan x="12" y="10.8">10ha</tspan><tspan x="35">13.62l/d</tspan></text></g>
<g transform="translate(313 143) rotate(-90)"><use href="#K"/><text class="tt" x="23.5" y="4">BCN 2 Kr</text><text class="v"><tspan x="12" y="10.8">10ha</tspan><tspan x="35">13.62l/d</tspan></text></g>
<g transform="translate(313 219) rotate(-90)"><use href="#K"/><text class="tt" x="23.5" y="4">BCP 2 Kn</text><text class="v"><tspan x="12" y="10.8">18ha</tspan><tspan x="35">24.51l/d</tspan></text></g>
<g transform="translate(364 143) rotate(-90)"><use href="#K"/><text class="tt" x="23.5" y="4">BCN 3 Kr</text><text class="v"><tspan x="12" y="10.8">18ha</tspan><tspan x="35">24.51l/d</tspan></text></g>
<g transform="translate(364 229) rotate(-90)"><use href="#K"/><text class="tt" x="23.5" y="4">BCP 3 Kn</text><text class="v"><tspan x="12" y="10.8">18ha</tspan><tspan x="35">24.51l/d</tspan></text></g>
<g transform="translate(414 143) rotate(-90)"><use href="#K"/><text class="tt" x="23.5" y="4">BCN 4 Kr</text><text class="v"><tspan x="12" y="10.8">18ha</tspan><tspan x="35">24.51l/d</tspan></text></g>
<g transform="translate(463 143) rotate(-90)"><use href="#K"/><text class="tt" x="23.5" y="4">BCN 5 Kr</text><text class="v"><tspan x="12" y="10.8">12ha</tspan><tspan x="35">16.34l/d</tspan></text></g>
<g transform="translate(463 227) rotate(-90)"><use href="#K"/><text class="tt" x="23.5" y="4">BCP 5 Kn</text><text class="v"><tspan x="12" y="10.8">10ha</tspan><tspan x="35">13.62l/d</tspan></text></g>
<g transform="translate(552 420) rotate(-90)"><use href="#K"/><text class="tt" x="23.5" y="4">BCN 10 Kr</text><text class="v"><tspan x="12" y="10.8">10ha</tspan><tspan x="35">13.62l/d</tspan></text></g>
<g transform="translate(603 420) rotate(-90)"><use href="#K"/><text class="tt" x="23.5" y="4">BCN 11 Kr</text><text class="v"><tspan x="12" y="10.8">18ha</tspan><tspan x="35">24.51l/d</tspan></text></g>
<g transform="translate(608 503) rotate(-90)"><use href="#K"/><text class="tt" x="23.5" y="4">BCP 11 Kn</text><text class="v"><tspan x="12" y="10.8">20ha</tspan><tspan x="35">27.23l/d</tspan></text></g>
<g transform="translate(653 420) rotate(-90)"><use href="#K"/><text class="tt" x="23.5" y="4">BCN 12 Kr</text><text class="v"><tspan x="12" y="10.8">–ha</tspan><tspan x="35">–l/d</tspan></text></g>
<g transform="translate(653 503) rotate(-90)"><use href="#K"/><text class="tt" x="23.5" y="4">BCP 12 Kn</text><text class="v"><tspan x="12" y="10.8">10ha</tspan><tspan x="35">13.62l/d</tspan></text></g>
<g transform="translate(704 503) rotate(-90)"><use href="#K"/><text class="tt" x="23.5" y="4">BCP 13 Kn</text><text class="v"><tspan x="12" y="10.8">10ha</tspan><tspan x="35">13.62l/d</tspan></text></g>
<g transform="translate(789 144) rotate(-90)"><use href="#K"/><text class="tt" x="23.5" y="4">BCN 18 Kr</text><text class="v"><tspan x="12" y="10.8">16ha</tspan><tspan x="35">21.79l/d</tspan></text></g>
<g transform="translate(220 795) rotate(-90)"><use href="#K"/><text class="tt" x="23.5" y="4">BCP 11 Kn</text><text class="v"><tspan x="12" y="10.8">26ha</tspan><tspan x="35">36.13l/d</tspan></text></g>
<g transform="translate(287 710) rotate(-90)"><use href="#K"/><text class="tt" x="23.5" y="4">BCP 12 Kr</text><text class="v"><tspan x="12" y="10.8">16ha</tspan><tspan x="35">21.79l/d</tspan></text></g>
<g transform="translate(321 710) rotate(-90)"><use href="#K"/><text class="tt" x="23.5" y="4">BCP 13 Kr</text><text class="v"><tspan x="12" y="10.8">10ha</tspan><tspan x="35">13.62l/d</tspan></text></g>
<g transform="translate(360 710) rotate(-90)"><use href="#K"/><text class="tt" x="23.5" y="4">BCP 14 Kr</text><text class="v"><tspan x="12" y="10.8">–ha</tspan><tspan x="35">–l/d</tspan></text></g>
<g transform="translate(408 710) rotate(-90)"><use href="#K"/><text class="tt" x="23.5" y="4">BCP 15 Kr</text><text class="v"><tspan x="12" y="10.8">16ha</tspan><tspan x="35">21.79l/d</tspan></text></g>
<g transform="translate(509 1037) rotate(-90)"><use href="#K"/><text class="tt" x="23.5" y="4">BCP 20 Kn</text><text class="v"><tspan x="12" y="10.8">22ha</tspan><tspan x="35">29.96l/d</tspan></text></g>
<g transform="translate(575 940) rotate(-90)"><use href="#K"/><text class="tt" x="23.5" y="4">BCP 21 Kr</text><text class="v"><tspan x="12" y="10.8">22ha</tspan><tspan x="35">29.96l/d</tspan></text></g>
<g transform="translate(610 1018) rotate(-90)"><use href="#K"/><text class="tt" x="23.5" y="4">BCP 22 Kn</text><text class="v"><tspan x="12" y="10.8">10ha</tspan><tspan x="35">13.62l/d</tspan></text></g>
<g transform="translate(722 323) rotate(45) translate(-23.5 -6)"><use href="#K"/><text class="tt" x="23.5" y="4">BCN 14 Kr</text><text class="v"><tspan x="12" y="10.8">16ha</tspan><tspan x="35">21.79l/d</tspan></text></g>
<g transform="translate(343 768) rotate(-45) translate(-23.5 -6)"><use href="#K"/><text class="tt" x="23.5" y="4">BCP 14 Kn</text><text class="v"><tspan x="12" y="10.8">12ha</tspan><tspan x="35">16.34l/d</tspan></text></g>
<g transform="translate(391 772) rotate(-45) translate(-23.5 -6)"><use href="#K"/><text class="tt" x="23.5" y="4">BCP 15 Kn</text><text class="v"><tspan x="12" y="10.8">–ha</tspan><tspan x="35">–l/d</tspan></text></g>

<path d="M1362 49V509H1541" fill="none" stroke="#000" stroke-width="1.2"/>
<text x="1386" y="67" class="sb">KETERANGAN :</text>
<g fill="none" stroke="#000" stroke-width="0.9">
<path d="M1390 82L1396 87V95H1389M1389 101L1396 104V112L1390 117M1418 82L1411 90V111L1418 117M1396 106H1411M1398 103V109"/>
<circle cx="1403" cy="132" r="3.5"/><circle cx="1403" cy="153" r="3.5"/>
<rect x="1399" y="171" width="8" height="6"/><path d="M1399 171L1407 177"/>
<path d="M1399 197H1407M1399 197Q1403 189 1407 197"/>
<path d="M1398 210Q1403 215 1408 210M1398 219Q1403 214 1408 219"/>
<path d="M1396 232L1401 237L1396 242M1410 232L1405 237L1410 242M1398 237H1408M1401 242L1405 232M1404 242L1408 232"/>
<path d="M1398 255H1408M1398 280H1408M1400 256V279M1406 256V279"/>
<path d="M1400 287H1406M1400 297H1406M1403 287V297"/>
<path d="M1395 323V328H1403V321M1403 328H1409V333M1401 322L1403 318L1405 322"/>
<rect x="1397" y="351" width="12" height="6"/><rect x="1396" y="370" width="14" height="5"/>
<path d="M1403 383V410M1399 390V400M1407 390V400M1399 395H1407"/>
<path d="M1392 453H1414"/><rect x="1372" y="468" width="57" height="22"/><path d="M1372 479H1429M1401 479V490"/>
</g>
<circle cx="1403" cy="132" r="1.8"/><circle cx="1403" cy="153" r="0.9"/>
<rect x="1396" y="309" width="14" height="3" fill="#333"/><path d="M1398 350V358M1408 350V358" stroke="#000"/>
<rect x="1400" y="414" width="6" height="9" fill="#111"/><rect x="1400" y="433" width="6" height="5" fill="#555"/>
<g class="lg">
<text x="1460" y="100">Bendung</text><text x="1460" y="134">Bagi Sadap</text><text x="1460" y="155">Sadap</text><text x="1460" y="176">Bangunan Ukur</text>
<text x="1460" y="196">Inlet</text><text x="1460" y="216">Talang</text><text x="1460" y="239">Syphon</text><text x="1460" y="268">Jembatan Kendaraan</text>
<text x="1460" y="295">Jembatan Orang</text><text x="1460" y="312">Lining</text><text x="1460" y="330">Peluap Samping</text>
<text x="1460" y="356">Tempat Mandi Hewan</text><text x="1460" y="375">Gorong-Gorong Pembawa</text><text x="1460" y="396">Gorong-Gorong Silang</text>
<text x="1460" y="421">Terjunan</text><text x="1460" y="438">Tangga Cuci</text><text x="1460" y="455">HM</text><text x="1460" y="479">Petak Tersier</text>
</g>

<g fill="none" stroke="#000" stroke-width="1">
<path d="M763 981H1174M763 981V1079M808 981V1079M853 981V1079M898 981V1079M943 981V1079M989 981V1079M1034 981V1079M763 1003H1034"/>
</g>
<g stroke="#999" stroke-width="0.6"><path d="M763 1014H1034M763 1025H1034M763 1036H1034M763 1047H1034M763 1058H1034M763 1068H1034"/></g>
<g class="m" style="font-size:6px">
<text x="785" y="991">No.</text><text x="785" y="998">Revisi</text><text x="830" y="993">Tgl</text>
<text x="875" y="991">Yang</text><text x="875" y="998">Direvisi</text><text x="920" y="993">Oleh</text>
<text x="966" y="991">Di</text><text x="966" y="998">Rencanakan</text><text x="1011" y="993">Di Set</text>
</g>
<path d="M1093 1008L1103 990L1110 1008M1098 1008L1108 993L1117 1006" fill="none" stroke="#000" stroke-width="2"/>
<circle cx="1118" cy="988" r="2.5" fill="none" stroke="#000" stroke-width="1.2"/>
<text x="1104" y="1017" style="font:7.5px 'Liberation Sans',sans-serif;text-anchor:middle">PT. Tirtayasa Jasa Consulindo</text>
<text x="1104" y="1024" style="font:5.5px 'Liberation Sans',sans-serif;text-anchor:middle">Konsultan Teknik dan Manajemen</text>
<text x="1104" y="1031" style="font:4px 'Liberation Sans',sans-serif;text-anchor:middle">Jl. Delima A. 37 Pasir Indah</text>
<text x="1104" y="1037" style="font:4px 'Liberation Sans',sans-serif;text-anchor:middle">Tlp. ( 0254 ) 202 531 Serang - Banten</text>
<g stroke="#000" stroke-width="0.6"><path d="M1034 1047H1174M1034 1058H1174M1034 1068H1174M1129 1047V1079"/></g>
<g style="font:4.2px 'Liberation Sans',sans-serif"><text x="1037" y="1054"><tspan font-weight="bold">Diukur</tspan>   :  Ahmad Sunarya</text>
<text x="1037" y="1065"><tspan font-weight="bold">Direncana</tspan>  :  Ir. Dwi Priyantoro, Ms</text>
<text x="1037" y="1075"><tspan font-weight="bold">Digambar</tspan>  :  M. Taufiq</text></g>

<g fill="none" stroke="#000" stroke-width="1">
<path d="M1174 934H1541M1174 934V1079M1432 934V1079M1174 980H1541M1432 953H1541M1174 1001H1432M1174 1025H1541M1174 1043H1541M1303 1025V1079M1368 1025V1079M1239 1043V1079M1493 1025V1079"/>
</g>
<path d="M1303 1025H1432" stroke="#000" stroke-width="1.8"/>
<text x="1303" y="944" style="font:4.5px 'Liberation Sans',sans-serif;text-anchor:middle">PEMERINTAH PROPINSI BANTEN</text>
<text x="1303" y="955" style="font:8px 'Liberation Sans',sans-serif;text-anchor:middle">DINAS PEKERJAAN UMUM</text>
<text x="1303" y="963" style="font:4.5px 'Liberation Sans',sans-serif;text-anchor:middle">SUB DINAS PENGAIRAN</text>
<text x="1303" y="972" style="font:bold 4px 'Liberation Sans',sans-serif;text-anchor:middle">Jln. Raya Sepang Km. 2 Telp. ( 0254 ) 200871 Fax. ( 0254 ) 200872 Serang 42116</text>
<text x="1216" y="948" style="font:2.5px 'Liberation Sans',sans-serif;fill:#999;text-anchor:middle">PEMERINTAH</text>
<text x="1437" y="947" class="sb" style="font-size:6.5px">Provinsi   :  Banten</text>
<text x="1487" y="962" class="m" style="font-size:5.8px">Kegiatan Perencanaan</text>
<text x="1487" y="970" class="m" style="font-size:5.8px">Teknik Sumber Daya Air</text>
<text x="1178" y="993" style="font:5.5px 'Liberation Sans',sans-serif">Pekerjaan :  <tspan font-weight="bold">DED DI. CIPARI/CIWUNI</tspan></text>
<text x="1180" y="1015" style="font:5.5px 'Liberation Sans',sans-serif">Gambar :</text>
<text x="1334" y="1015" class="m" style="font-size:6px">SKEMA BANGUNAN IRIGASI RENCANA</text>
<g class="sb" style="font-size:5.5px"><text x="1437" y="989">Desa         :</text><text x="1437" y="998">Kecamatan  :</text><text x="1437" y="1007">Kabupaten   :  SERANG</text><text x="1437" y="1019">No. Register :</text></g>
<g class="m" style="font-size:4.5px"><text x="1239" y="1036">Di Periksa</text><text x="1335" y="1036">Di Setujui</text><text x="1400" y="1036">Di Ketahui</text><text x="1462" y="1036">No / Jml Lembar</text><text x="1517" y="1036">Skala</text>
<text x="1462" y="1064" style="font-size:5.5px">17 / 180</text></g>
<g style="font:4.2px 'Liberation Sans',sans-serif;text-anchor:middle">
<text x="1206" y="1068" text-decoration="underline">Didik Purwanto, ST</text><text x="1206" y="1074">Pelaksana Adm Teknik</text>
<text x="1271" y="1068" text-decoration="underline">Mukhtar, ST</text><text x="1271" y="1074">Koordinator Pelaksana</text>
<text x="1335" y="1068" text-decoration="underline">Sumiarsa, ATP</text><text x="1335" y="1074">Pemimpin Pelaksana</text>
<text x="1400" y="1068" text-decoration="underline">H. Endar Margono, ME</text><text x="1400" y="1074">Kasubdin Pengairan</text>
</g>
</svg>
</body></html>
